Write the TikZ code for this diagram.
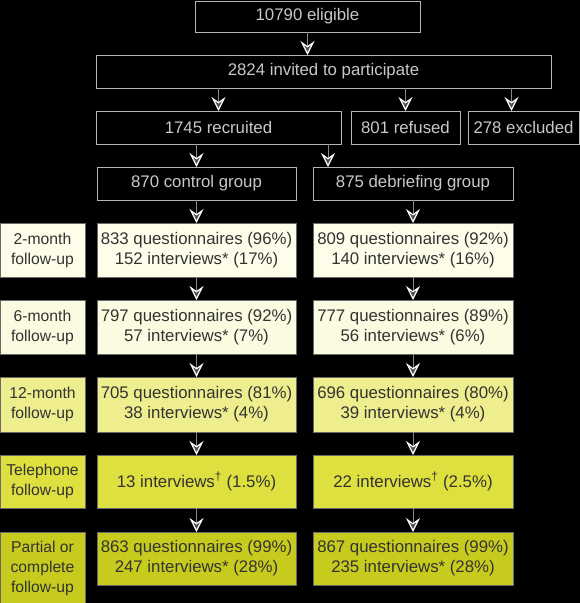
\documentclass[tikz,border=0pt]{standalone}
\usepackage{fontspec}
\setmainfont{Liberation Sans}
\usetikzlibrary{arrows.meta}
\definecolor{topline}{HTML}{B4B4B4}
\definecolor{toptext}{HTML}{C8C8C8}
\definecolor{boxline}{HTML}{6A6A6A}
\definecolor{boxtext}{HTML}{333333}
\definecolor{rowA}{HTML}{FDFDEA}
\definecolor{rowB}{HTML}{FBFBE2}
\definecolor{rowC}{HTML}{EEEE8E}
\definecolor{rowD}{HTML}{DDE03E}
\definecolor{rowE}{HTML}{C7CB1E}
\definecolor{arrline}{HTML}{8A8A8A}
\definecolor{arrfill}{HTML}{505050}
\begin{document}
\begin{tikzpicture}[x=1pt,y=-1pt,
  every node/.style={inner sep=0pt,outer sep=0pt,align=center,font=\fontsize{16.8}{20}\selectfont},
  topbox/.style={draw=topline,line width=1pt,fill=black,text=toptext},
  rowbox/.style={draw=boxline,line width=1pt,text=boxtext},
  labelbox/.style={rowbox,font=\fontsize{15.7}{20}\selectfont},
  arr/.style={draw=arrline,line width=1pt,-{Stealth[length=14pt,width=14pt,inset=5pt,fill=arrfill,color=white,line width=1.2pt]}}
]
\fill[black] (0,0) rectangle (580,603);
\useasboundingbox (0,0) rectangle (580,603);

% top part
\node[topbox,minimum width=225pt,minimum height=31pt] (elig) at (307.5,16.5) {10790 eligible};
\node[topbox,minimum width=455pt,minimum height=33pt] (inv) at (323.5,71.5) {2824 invited to participate};
\node[topbox,minimum width=245pt,minimum height=33pt] (rec) at (218.5,127.5) {1745 recruited};
\node[topbox,minimum width=109pt,minimum height=33pt] (ref) at (405.5,127.5) {801 refused};
\node[topbox,minimum width=111pt,minimum height=33pt] (exc) at (523.5,127.5) {278 excluded};
\node[topbox,minimum width=199pt,minimum height=33pt] (ctrl) at (196.5,183.5) {870 control group};
\node[topbox,minimum width=200pt,minimum height=33pt] (debr) at (413,183.5) {875 debriefing group};
\coordinate (excin) at ([xshift=-12pt]exc.north);
\coordinate (debrin) at ([xshift=15pt]debr.north west);

% rows: labels
\node[labelbox,fill=rowA,minimum width=85pt,minimum height=54pt] (l1) at (42.5,250) {2-month\\follow-up};
\node[labelbox,fill=rowB,minimum width=85pt,minimum height=54pt] (l2) at (42.5,327) {6-month\\follow-up};
\node[labelbox,fill=rowC,minimum width=85pt,minimum height=55pt] (l3) at (42.5,404.5) {12-month\\follow-up};
\node[labelbox,fill=rowD,minimum width=85pt,minimum height=53pt] (l4) at (42.5,481.5) {Telephone\\follow-up};
\node[labelbox,fill=rowE,minimum width=85pt,minimum height=72pt] (l5) at (42.5,568) {Partial or\\complete\\follow-up};

% control column
\node[rowbox,fill=rowA,minimum width=199pt,minimum height=54pt] (c1) at (196.5,250) {833 questionnaires (96\%)\\152 interviews* (17\%)};
\node[rowbox,fill=rowB,minimum width=199pt,minimum height=54pt] (c2) at (196.5,327) {797 questionnaires (92\%)\\57 interviews* (7\%)};
\node[rowbox,fill=rowC,minimum width=199pt,minimum height=55pt] (c3) at (196.5,404.5) {705 questionnaires (81\%)\\38 interviews* (4\%)};
\node[rowbox,fill=rowD,minimum width=199pt,minimum height=53pt] (c4) at (196.5,481.5) {13 interviews\textsuperscript{†} (1.5\%)};
\node[rowbox,fill=rowE,minimum width=199pt,minimum height=53pt] (c5) at (196.5,558.5) {863 questionnaires (99\%)\\247 interviews* (28\%)};

% debriefing column
\node[rowbox,fill=rowA,minimum width=200pt,minimum height=54pt] (d1) at (413,250) {809 questionnaires (92\%)\\140 interviews* (16\%)};
\node[rowbox,fill=rowB,minimum width=200pt,minimum height=54pt] (d2) at (413,327) {777 questionnaires (89\%)\\56 interviews* (6\%)};
\node[rowbox,fill=rowC,minimum width=200pt,minimum height=55pt] (d3) at (413,404.5) {696 questionnaires (80\%)\\39 interviews* (4\%)};
\node[rowbox,fill=rowD,minimum width=200pt,minimum height=53pt] (d4) at (413,481.5) {22 interviews\textsuperscript{†} (2.5\%)};
\node[rowbox,fill=rowE,minimum width=200pt,minimum height=53pt] (d5) at (413,558.5) {867 questionnaires (99\%)\\235 interviews* (28\%)};

% arrows top
\draw[arr] (elig.south) -- (elig.south |- inv.north);
\draw[arr] (inv.south -| rec.north) -- (rec.north);
\draw[arr] (inv.south -| ref.north) -- (ref.north);
\draw[arr] (inv.south -| excin) -- (excin);
\draw[arr] (rec.south -| ctrl.north) -- (ctrl.north);
\draw[arr] (rec.south -| debrin) -- (debrin);
\draw[arr] (ctrl.south) -- (c1.north);
\draw[arr] (debr.south) -- (d1.north);
% arrows rows
\foreach \a/\b in {c1/c2,c2/c3,c3/c4,c4/c5,d1/d2,d2/d3,d3/d4,d4/d5}
  \draw[arr] (\a.south) -- (\b.north);
\end{tikzpicture}
\end{document}
